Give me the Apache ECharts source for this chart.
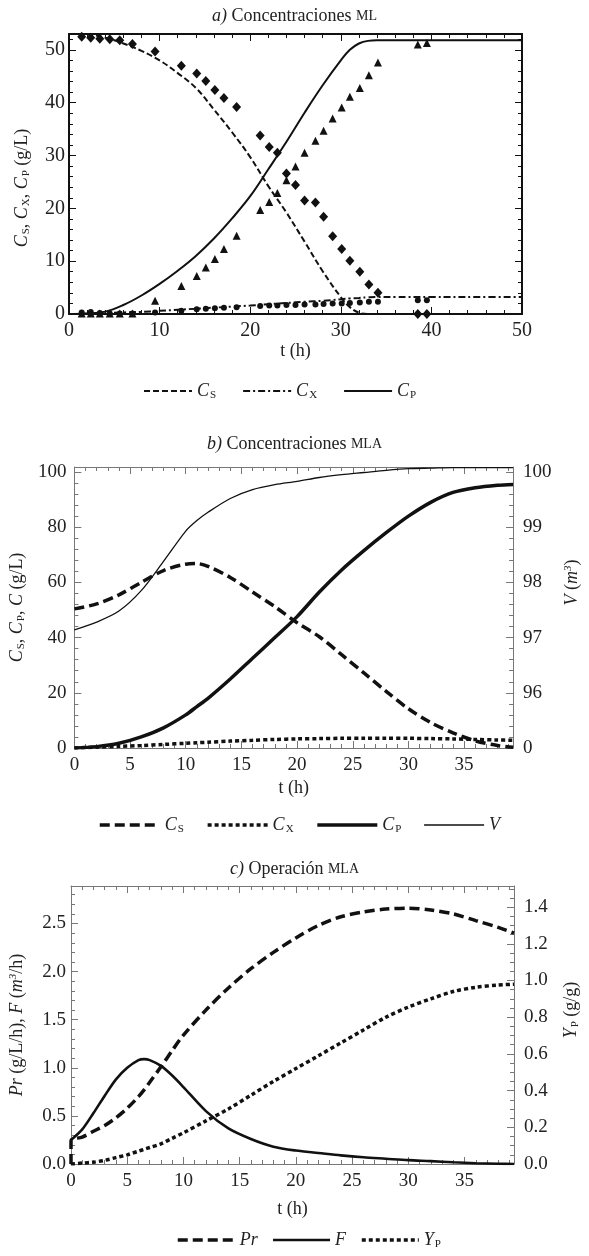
<!DOCTYPE html>
<html>
<head>
<meta charset="utf-8">
<script src="https://cdn.jsdelivr.net/npm/echarts@6/dist/echarts.min.js"></script>
<style>
html, body { margin: 0; padding: 0; background: #fff; }
#main { width: 589px; height: 1256px; }
</style>
</head>
<body>
<div id="main"></div>
<script>
var serif = '"Liberation Serif", "DejaVu Serif", serif';

// a) datos experimentales (ML)
var tExpA  = [1.4, 2.4, 3.4, 4.5, 5.6, 7.0, 9.5, 12.4, 14.1, 15.1, 16.1, 17.1, 18.5, 21.1, 22.1, 23.0, 24.0, 25.0, 26.0, 27.2, 28.1, 29.1, 30.1, 31.0, 32.1, 33.1, 34.1, 38.5, 39.5];
var csExpA = [52.5, 52.3, 52.1, 52.0, 51.8, 51.1, 49.7, 47.0, 45.5, 44.1, 42.4, 40.9, 39.2, 33.8, 31.6, 30.5, 26.6, 24.4, 21.5, 21.1, 18.4, 14.7, 12.3, 10.1, 8.0, 5.6, 4.0, 0.0, 0.0];
var cpExpA = [0.1, 0.1, 0.1, 0.1, 0.1, 0.1, 2.5, 5.3, 7.2, 8.8, 10.4, 12.3, 14.8, 19.7, 21.2, 22.9, 25.3, 27.9, 30.5, 32.8, 34.7, 37.0, 39.1, 41.1, 42.8, 45.2, 47.6, 51.0, 51.3];
var cxExpA = [0.3, 0.4, 0.2, 0.1, 0.1, 0.1, 0.3, 0.6, 0.9, 1.0, 1.1, 1.2, 1.3, 1.5, 1.6, 1.6, 1.7, 1.7, 1.8, 1.8, 1.9, 2.0, 2.0, 2.1, 2.2, 2.3, 2.3, 2.6, 2.6];

// a) modelo
var tModA  = [0, 2, 4, 6, 8, 10, 12, 14, 16, 18, 20, 22, 24, 26, 28, 30, 31, 32, 33, 34, 36, 40, 45, 50];
var csModA = [53, 52.9, 52.3, 51.2, 49.8, 48, 45.6, 42.8, 38.7, 34.4, 29.7, 24.2, 19.2, 13.7, 8.1, 3.2, 1.3, 0.25, 0, 0, 0, 0, 0, 0];
var cpModA = [0, 0.1, 0.45, 1.7, 3.5, 5.7, 8.2, 11.0, 14.3, 18.1, 22.3, 27.4, 32.6, 38.1, 43.3, 48, 50, 51.2, 51.7, 51.8, 51.8, 51.8, 51.8, 51.8];
var cxModA = [0, 0.05, 0.15, 0.3, 0.4, 0.6, 0.8, 1.0, 1.2, 1.4, 1.6, 1.85, 2.1, 2.3, 2.5, 2.8, 2.95, 3.05, 3.15, 3.2, 3.2, 3.2, 3.2, 3.2];

// b) MLA
var tB  = [0, 2, 4, 6, 8, 10, 11, 12, 14, 16, 18, 20, 22, 24, 26, 28, 30, 32, 34, 36, 38, 39.4];
var csB = [50.4, 52.2, 55.5, 60, 64.3, 66.6, 66.8, 65.8, 61.8, 56.5, 51.2, 45.4, 40.3, 33.8, 27.2, 20.5, 14.2, 9.2, 5.5, 2.6, 0.9, 0.3];
var cxB = [0, 0.3, 0.6, 0.9, 1.3, 1.7, 1.9, 2.1, 2.5, 2.8, 3.1, 3.3, 3.4, 3.5, 3.5, 3.5, 3.5, 3.4, 3.3, 3.1, 2.9, 2.8];
var cpB = [0, 0.5, 1.7, 4.0, 7.3, 12, 15, 18, 25, 32.5, 40, 47.6, 56.5, 64.5, 71.5, 78, 84, 89, 92.6, 94.3, 95.2, 95.5];
var vB  = [97.14, 97.28, 97.48, 97.85, 98.38, 98.93, 99.12, 99.27, 99.52, 99.68, 99.77, 99.83, 99.9, 99.95, 99.99, 100.03, 100.06, 100.07, 100.08, 100.08, 100.08, 100.08];

// c) Operación MLA
var tC  = [0, 1, 2, 3, 4, 5, 6, 6.5, 7, 8, 9, 10, 12, 14, 16, 18, 20, 22, 24, 26, 28, 30, 32, 34, 36, 38, 39.4];
var prC = [0.24, 0.28, 0.34, 0.4, 0.48, 0.58, 0.7, 0.77, 0.85, 1.01, 1.18, 1.34, 1.6, 1.83, 2.03, 2.2, 2.35, 2.48, 2.57, 2.62, 2.65, 2.66, 2.64, 2.6, 2.53, 2.46, 2.40];
var fC  = [0.25, 0.36, 0.53, 0.71, 0.88, 1.0, 1.08, 1.09, 1.08, 1.02, 0.92, 0.8, 0.55, 0.37, 0.26, 0.18, 0.14, 0.115, 0.09, 0.07, 0.055, 0.04, 0.03, 0.018, 0.008, 0.002, 0];
var ypC = [0, 0.005, 0.01, 0.02, 0.035, 0.05, 0.07, 0.08, 0.09, 0.11, 0.14, 0.17, 0.235, 0.3, 0.375, 0.45, 0.52, 0.59, 0.66, 0.73, 0.8, 0.855, 0.9, 0.94, 0.963, 0.975, 0.98];

var xTicksA = [0, 10, 20, 30, 40, 50];

function zip(t, v) {
    var out = [];
    for (var i = 0; i < t.length; i++) out.push([t[i], v[i]]);
    return out;
}

var rich = {
    n:   { fontFamily: serif, fontSize: 18, fontWeight: 'normal', color: '#222' },
    i:   { fontFamily: serif, fontSize: 18, fontWeight: 'normal', fontStyle: 'italic', color: '#222' },
    s:   { fontFamily: serif, fontSize: 11, fontWeight: 'normal', color: '#222', padding: [9, 0, 0, 1] },
    sup: { fontFamily: serif, fontSize: 11, fontWeight: 'normal', fontStyle: 'italic', color: '#222', padding: [0, 0, 8, 0] },
    sc:  { fontFamily: serif, fontSize: 14, fontWeight: 'normal', color: '#222' }
};

var legendNames = {
    aCS: '{i|C}{s|S}', aCX: '{i|C}{s|X}', aCP: '{i|C}{s|P}',
    bCS: '{i|C}{s|S}', bCX: '{i|C}{s|X}', bCP: '{i|C}{s|P}', bV: '{i|V}',
    cPr: '{i|Pr}', cF: '{i|F}', cYP: '{i|Y}{s|P}'
};

var black = '#111';
var frameA = { show: true, onZero: false, lineStyle: { color: '#111', width: 2 } };
var frameB = { show: true, onZero: false, lineStyle: { color: '#777', width: 1 } };

function xAx(grid, pos, min, max, interval, frame, labels, extra) {
    var ax = {
        type: 'value', gridIndex: grid, position: pos, min: min, max: max, interval: interval,
        axisLine: frame,
        axisTick: { show: true, inside: true, length: 7, lineStyle: { color: frame.lineStyle.color } },
        minorTick: { show: true, splitNumber: 5, length: 4, lineStyle: { color: frame.lineStyle.color } },
        splitLine: { show: false },
        axisLabel: { show: labels, fontFamily: serif, fontSize: 19, color: '#222', showMaxLabel: false }
    };
    for (var k in extra) ax[k] = extra[k];
    return ax;
}

function legendAt(names, left, top, w, gap) {
    return {
        data: names, left: left, top: top, itemWidth: w, itemHeight: 14, itemGap: gap,
        itemStyle: { opacity: 0 },
        lineStyle: { width: 'inherit' },
        formatter: function (n) { return legendNames[n]; },
        textStyle: { rich: rich }
    };
}

var option = {
    animation: false,
    backgroundColor: '#fff',
    title: [
        { text: '{i|a)}{n| Concentraciones }{sc|ML}', left: 'center', top: 2, textStyle: { rich: rich, fontWeight: 'normal' } },
        { text: '{i|b)}{n| Concentraciones }{sc|MLA}', left: 'center', top: 430, textStyle: { rich: rich, fontWeight: 'normal' } },
        { text: '{i|c)}{n| Operación }{sc|MLA}', left: 'center', top: 855, textStyle: { rich: rich, fontWeight: 'normal' } }
    ],
    grid: [
        { left: 69, top: 34, width: 453, height: 280 },
        { left: 67, top: 467, width: 457, height: 281 },
        { left: 69, top: 886, width: 451, height: 278 }
    ],
    legend: [
        legendAt(['aCS', 'aCX', 'aCP'], 138, 377, 48, 26),
        legendAt(['bCS', 'bCX', 'bCP', 'bV'], 93, 811, 60, 22),
        legendAt(['cPr', 'cF', 'cYP'], 171, 1226, 57, 14)
    ],
    xAxis: [
        xAx(0, 'bottom', 0, 50, 10, frameA, true, {
            name: 't (h)', nameLocation: 'middle', nameGap: 21,
            nameTextStyle: { fontFamily: serif, fontSize: 18, color: '#222' },
            axisLabel: { fontFamily: serif, fontSize: 20, color: '#222', margin: 7, customValues: xTicksA }
        }),
        xAx(0, 'top', 0, 50, 10, frameA, false, {}),
        xAx(1, 'bottom', 0, 39.4, 5, frameB, true, {
            name: 't (h)', nameLocation: 'middle', nameGap: 31,
            nameTextStyle: { fontFamily: serif, fontSize: 18, color: '#222' }
        }),
        xAx(1, 'top', 0, 39.4, 5, frameB, false, {}),
        xAx(2, 'bottom', 0, 39.4, 5, frameB, true, {
            name: 't (h)', nameLocation: 'middle', nameGap: 36,
            nameTextStyle: { fontFamily: serif, fontSize: 18, color: '#222' }
        }),
        xAx(2, 'top', 0, 39.4, 5, frameB, false, {})
    ],
    yAxis: [
        xAx(0, 'left', 0, 53, 10, frameA, true, {
            name: '{i|C}{s|S}{n|, }{i|C}{s|X}{n|, }{i|C}{s|P}{n| (g/L)}',
            nameLocation: 'middle', nameRotate: 90, nameGap: 37,
            nameTextStyle: { rich: rich, padding: [0, 28, 0, 0] },
            axisLabel: { fontFamily: serif, fontSize: 20, color: '#222', margin: 4, showMaxLabel: false }
        }),
        xAx(0, 'right', 0, 53, 10, frameA, false, {}),
        xAx(1, 'left', 0, 101.8, 20, frameB, true, {
            name: '{i|C}{s|S}{n|, }{i|C}{s|P}{n|, }{i|C}{n| (g/L)}',
            nameLocation: 'middle', nameRotate: 90, nameGap: 42,
            nameTextStyle: { rich: rich },
            axisLabel: { fontFamily: serif, fontSize: 19, color: '#222', margin: 8, showMaxLabel: false }
        }),
        xAx(1, 'right', 95, 100.09, 1, frameB, true, {
            name: '{i|V}{n| (}{i|m}{sup|3}{n|)}',
            nameLocation: 'middle', nameRotate: 90, nameGap: 49,
            nameTextStyle: { rich: rich, padding: [0, 0, 0, 50] },
            axisLabel: { fontFamily: serif, fontSize: 19, color: '#222', margin: 10, showMaxLabel: false,
                formatter: function (v) { return v === 95 ? '0' : String(v); } }
        }),
        xAx(2, 'left', 0, 2.89, 0.5, frameB, true, {
            name: '{i|Pr}{n| (g/L/h), }{i|F}{n| (}{i|m}{sup|3}{n|/h)}',
            nameLocation: 'middle', nameRotate: 90, nameGap: 44,
            nameTextStyle: { rich: rich },
            axisLabel: { fontFamily: serif, fontSize: 19, color: '#222', margin: 5, showMaxLabel: false,
                formatter: function (v) { return v.toFixed(1); } }
        }),
        xAx(2, 'right', 0, 1.515, 0.2, frameB, true, {
            name: '{i|Y}{s|P}{n| (g/g)}',
            nameLocation: 'middle', nameRotate: 90, nameGap: 47,
            nameTextStyle: { rich: rich, padding: [0, 0, 0, 30] },
            minorTick: { show: true, splitNumber: 4, length: 4, lineStyle: { color: '#777' } },
            axisLabel: { fontFamily: serif, fontSize: 19, color: '#222', margin: 10, showMaxLabel: false,
                formatter: function (v) { return v.toFixed(1); } }
        })
    ],
    series: [
        { name: 'aCS', type: 'line', xAxisIndex: 0, yAxisIndex: 0, data: zip(tModA, csModA), smooth: 0.4,
          symbol: 'none', lineStyle: { color: black, width: 2, type: [6, 3] }, itemStyle: { color: black } },
        { name: 'aCX', type: 'line', xAxisIndex: 0, yAxisIndex: 0, data: zip(tModA, cxModA), smooth: 0.4,
          symbol: 'none', lineStyle: { color: black, width: 2, type: [7, 3, 2, 3] }, itemStyle: { color: black } },
        { name: 'aCP', type: 'line', xAxisIndex: 0, yAxisIndex: 0, data: zip(tModA, cpModA), smooth: 0.4,
          symbol: 'none', lineStyle: { color: black, width: 2 }, itemStyle: { color: black } },
        { name: 'aCSexp', type: 'scatter', xAxisIndex: 0, yAxisIndex: 0, data: zip(tExpA, csExpA),
          symbol: 'diamond', symbolSize: [9, 10], itemStyle: { color: black, opacity: 1 } },
        { name: 'aCPexp', type: 'scatter', xAxisIndex: 0, yAxisIndex: 0, data: zip(tExpA, cpExpA),
          symbol: 'triangle', symbolSize: 8, itemStyle: { color: black, opacity: 1 } },
        { name: 'aCXexp', type: 'scatter', xAxisIndex: 0, yAxisIndex: 0, data: zip(tExpA, cxExpA),
          symbol: 'circle', symbolSize: 6, itemStyle: { color: black, opacity: 1 } },

        { name: 'bCS', type: 'line', xAxisIndex: 2, yAxisIndex: 2, data: zip(tB, csB), smooth: 0.3,
          symbol: 'none', lineStyle: { color: black, width: 3.5, type: [10, 5] }, itemStyle: { color: black } },
        { name: 'bCX', type: 'line', xAxisIndex: 2, yAxisIndex: 2, data: zip(tB, cxB), smooth: 0.3,
          symbol: 'none', lineStyle: { color: black, width: 3.5, type: [4, 3] }, itemStyle: { color: black } },
        { name: 'bCP', type: 'line', xAxisIndex: 2, yAxisIndex: 2, data: zip(tB, cpB), smooth: 0.3,
          symbol: 'none', lineStyle: { color: black, width: 3.5 }, itemStyle: { color: black } },
        { name: 'bV', type: 'line', xAxisIndex: 2, yAxisIndex: 3, data: zip(tB, vB), smooth: 0.3,
          symbol: 'none', lineStyle: { color: black, width: 1.3 }, itemStyle: { color: black } },

        { name: 'cPr', type: 'line', xAxisIndex: 4, yAxisIndex: 4, data: [[0, 0]].concat(zip(tC, prC)), smooth: 0.3,
          symbol: 'none', lineStyle: { color: black, width: 3.5, type: [10, 5] }, itemStyle: { color: black } },
        { name: 'cF', type: 'line', xAxisIndex: 4, yAxisIndex: 4, data: zip(tC, fC), smooth: 0.3,
          symbol: 'none', lineStyle: { color: black, width: 2.6 }, itemStyle: { color: black } },
        { name: 'cYP', type: 'line', xAxisIndex: 4, yAxisIndex: 5, data: zip(tC, ypC), smooth: 0.3,
          symbol: 'none', lineStyle: { color: black, width: 3.5, type: [4, 3] }, itemStyle: { color: black } }
    ]
};

var myChart = echarts.init(document.getElementById('main'));
myChart.setOption(option);
</script>
</body>
</html>
